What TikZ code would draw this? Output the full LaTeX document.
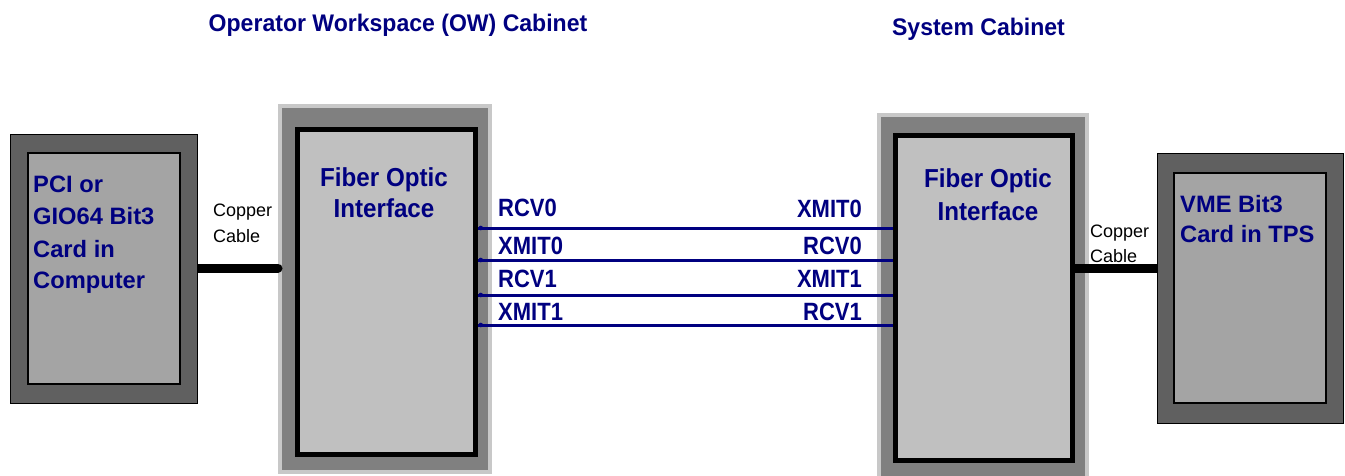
\documentclass[tikz,border=0pt]{standalone}
\usepackage{fontspec}
\setmainfont{Liberation Sans}
\newfontfamily\titlefont[FakeStretch=0.96]{Liberation Sans Bold}
\newfontfamily\foifont[FakeStretch=0.93]{Liberation Sans Bold}
\newfontfamily\sigfont[FakeStretch=0.88]{Liberation Sans Bold}
\definecolor{navytext}{HTML}{000080}
\definecolor{cabgray}{HTML}{808080}
\definecolor{cabedge}{HTML}{C8C8C8}
\definecolor{foigray}{HTML}{C0C0C0}
\definecolor{cardouter}{HTML}{606060}
\definecolor{cardinner}{HTML}{A4A4A4}
\tikzset{
  cabinet/.style={rectangle, fill=cabgray, draw=cabedge, line width=4pt, inner sep=0pt},
  foibox/.style={rectangle, fill=foigray, draw=black, line width=5pt, inner sep=0pt},
  cardout/.style={rectangle, fill=cardouter, draw=black, line width=1pt, inner sep=0pt},
  cardin/.style={rectangle, fill=cardinner, draw=black, line width=1.3pt, inner sep=0pt},
  cable/.style={draw=black, line width=9pt, line cap=round},
  fiber/.style={draw=navytext, line width=3pt},
  fiberdot/.style={fill=navytext},
  titletxt/.style={inner sep=0pt, anchor=base, text=navytext, font=\titlefont\fontsize{24}{28}\selectfont},
  foitxt/.style={inner sep=0pt, anchor=base, text=navytext, font=\foifont\fontsize{26}{30}\selectfont},
  sigl/.style={inner sep=0pt, anchor=base west, text=navytext, font=\sigfont\fontsize{25}{29}\selectfont},
  sigr/.style={inner sep=0pt, anchor=base east, text=navytext, font=\sigfont\fontsize{25}{29}\selectfont},
  cardtxt/.style={inner sep=0pt, anchor=base west, text=navytext, font=\bfseries\fontsize{23.7}{28}\selectfont},
  coptxt/.style={inner sep=0pt, anchor=base west, text=black, font=\fontsize{18}{22}\selectfont},
}
\begin{document}
\begin{tikzpicture}[x=1pt,y=-1pt]
\useasboundingbox[fill=white] (0,0) rectangle (1345,476);
% titles
\node[titletxt] (t1) at (398,32) {Operator Workspace (OW) Cabinet};
\node[titletxt] (t2) at (978.5,36) {System Cabinet};
% cabinets
\node[cabinet, minimum width=210pt, minimum height=365pt] (owcab) at (385,289) {};
\node[cabinet, minimum width=208pt, minimum height=367pt] (syscab) at (983,298.5) {};
\node[foibox, minimum width=178pt, minimum height=325pt] (foi1) at (386.5,292) {};
\node[foibox, minimum width=177pt, minimum height=325pt] (foi2) at (984,298) {};
\node[foitxt] (f1a) at (384,186) {Fiber Optic};
\node[foitxt] (f1b) at (384,218) {Interface};
\node[foitxt] (f2a) at (988,188) {Fiber Optic};
\node[foitxt] (f2b) at (988,220) {Interface};
% fiber lines
\coordinate (r1) at (0,228);
\coordinate (r2) at (0,260);
\coordinate (r3) at (0,295);
\coordinate (r4) at (0,325);
\foreach \r in {r1,r2,r3,r4}{
  \draw[fiber] (foi1.east |- \r) -- (foi2.west |- \r);
  \fill[fiberdot] ([xshift=2.8pt]foi1.east |- \r) circle (2.3);
}
\node[sigl] (l1) at (498,217) {RCV0};
\node[sigl] (l2) at (498,254) {XMIT0};
\node[sigl] (l3) at (498,287) {RCV1};
\node[sigl] (l4) at (498,320) {XMIT1};
\node[sigr] (m1) at (862,218) {XMIT0};
\node[sigr] (m2) at (862,254) {RCV0};
\node[sigr] (m3) at (862,287) {XMIT1};
\node[sigr] (m4) at (862,320) {RCV1};
% cables
\coordinate (cy) at (0,268);
\coordinate (cab1s) at (197,268);
\coordinate (cab2e) at (1157,268);
\draw[cable] (cab1s) -- (owcab.west |- cy);
\draw[cable] (foi2.east |- cy) -- (cab2e);
\node[coptxt] (c1a) at (213,217) {Copper};
\node[coptxt] (c1b) at (213,243) {Cable};
\node[coptxt] (c2a) at (1090,237) {Copper};
\node[coptxt] (c2b) at (1090,262) {Cable};
% cards
\node[cardout, minimum width=187pt, minimum height=268pt] (card1) at (103.5,269) {};
\node[cardin, minimum width=152pt, minimum height=231pt] (card1in) at (104,268.5) {};
\node[cardout, minimum width=186pt, minimum height=269pt] (card2) at (1250,288.5) {};
\node[cardin, minimum width=152pt, minimum height=230pt] (card2in) at (1250,288) {};
\node[cardtxt] (k1) at (33,193) {PCI or};
\node[cardtxt] (k2) at (33,225) {GIO64 Bit3};
\node[cardtxt] (k3) at (33,257) {Card in};
\node[cardtxt] (k4) at (33,288) {Computer};
\node[cardtxt] (v1) at (1180,212) {VME Bit3};
\node[cardtxt] (v2) at (1180,243) {Card in TPS};
\end{tikzpicture}
\end{document}
